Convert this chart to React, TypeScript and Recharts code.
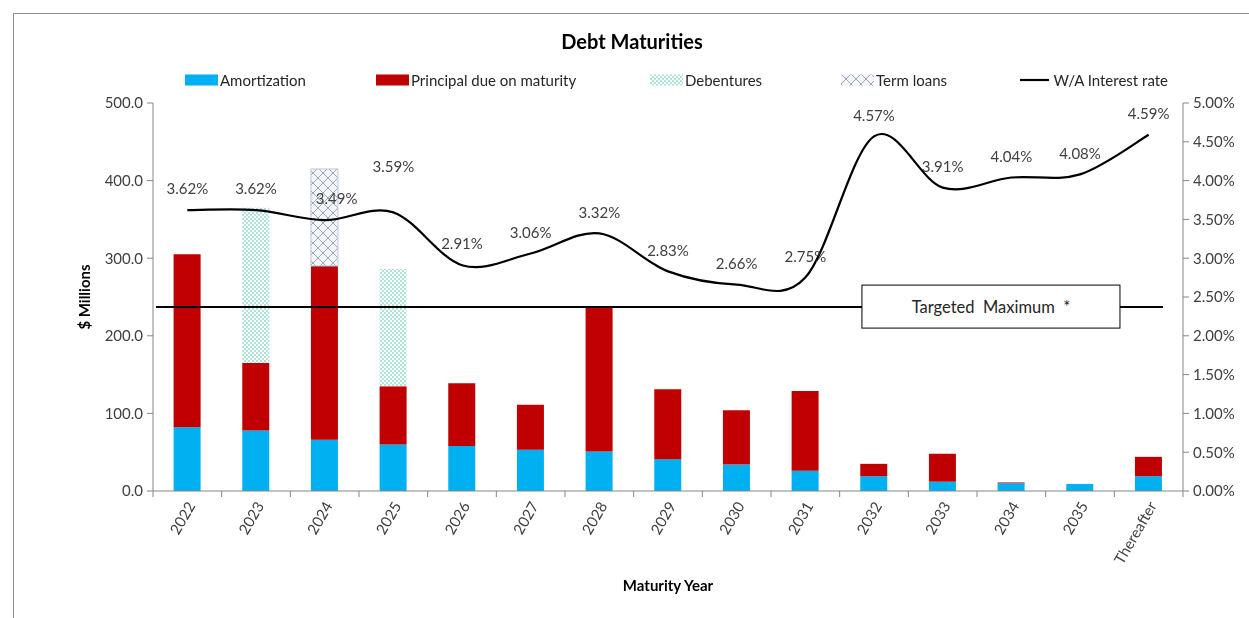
import React from 'react';
import {
  ComposedChart,
  Bar,
  Line,
  XAxis,
  YAxis,
  Legend,
  ReferenceLine,
  LabelList,
} from 'recharts';

const years = ['2022', '2023', '2024', '2025', '2026', '2027', '2028', '2029', '2030', '2031', '2032', '2033', '2034', '2035', 'Thereafter'];
const amortization = [82, 78, 66, 60, 58, 53, 51, 41, 34, 26, 19, 12, 10, 9, 19];
const principal = [223, 87, 224, 75, 81, 58, 185, 90, 70, 103, 16, 36, 1, 0, 25];
const debentures = [0, 200, 0, 151, 0, 0, 0, 0, 0, 0, 0, 0, 0, 0, 0];
const termLoans = [0, 0, 125, 0, 0, 0, 0, 0, 0, 0, 0, 0, 0, 0, 0];
const rate = [3.62, 3.62, 3.49, 3.59, 2.91, 3.06, 3.32, 2.83, 2.66, 2.75, 4.57, 3.91, 4.04, 4.08, 4.59];
const targetedMaximum = 237;
const leftTicks = [0, 100, 200, 300, 400, 500];
const rightTicks = [0, 0.5, 1, 1.5, 2, 2.5, 3, 3.5, 4, 4.5, 5];

const data = years.map((year, i) => ({
  year,
  amortization: amortization[i],
  principal: principal[i],
  debentures: debentures[i],
  termLoans: termLoans[i],
  rate: rate[i],
}));

const FONT = 'Lato, "Open Sans", sans-serif';
const BLUE = '#00b0f0';
const RED = '#c00000';
const AXIS = '#868686';
const TEXT = '#404040';

const CHART_W = 1241;
const CHART_H = 602;
const MARGIN = { top: 95, right: 4, bottom: 19, left: 85 };
const LEFT_W = 60;
const RIGHT_W = 62;
const PLOT_W = CHART_W - MARGIN.left - MARGIN.right - LEFT_W - RIGHT_W;
const BAND = PLOT_W / years.length;

// Excel-like smoothed line (Catmull-Rom style bezier)
const excelSmooth = (context: any) => {
  let pts: number[][] = [];
  return {
    areaStart() {},
    areaEnd() {},
    lineStart() {
      pts = [];
    },
    lineEnd() {
      const n = pts.length;
      if (!n) return;
      context.moveTo(pts[0][0], pts[0][1]);
      for (let i = 0; i < n - 1; i++) {
        const p0 = pts[Math.max(i - 1, 0)];
        const p1 = pts[i];
        const p2 = pts[i + 1];
        const p3 = pts[Math.min(i + 2, n - 1)];
        context.bezierCurveTo(
          p1[0] + (p2[0] - p0[0]) / 6,
          p1[1] + (p2[1] - p0[1]) / 6,
          p2[0] - (p3[0] - p1[0]) / 6,
          p2[1] - (p3[1] - p1[1]) / 6,
          p2[0],
          p2[1]
        );
      }
    },
    point(x: number, y: number) {
      pts.push([+x, +y]);
    },
  };
};

const XTick = (props: any) => {
  const { x, y, payload, index } = props;
  const half = BAND / 2;
  const ax = x + 4;
  const ay = y + 12;
  return (
    <g>
      <line x1={x - half} x2={x - half} y1={y} y2={y + 6} stroke={AXIS} />
      {index === years.length - 1 && <line x1={x + half} x2={x + half} y1={y} y2={y + 6} stroke={AXIS} />}
      <text
        x={ax}
        y={ay}
        dy="0.35em"
        textAnchor="end"
        transform={`rotate(-60, ${ax}, ${ay})`}
        fontSize={15}
        fontFamily={FONT}
        fill={TEXT}
      >
        {payload.value}
      </text>
    </g>
  );
};

const RateLabel = (p: any) => {
  const { x, y, value, index } = p;
  const dx = index === 2 ? 12 : 0;
  const dy = index === 3 ? -46 : -21;
  return (
    <text x={x + dx} y={y + dy} dy="0.35em" textAnchor="middle" fontSize={15} fontFamily={FONT} fill={TEXT}>
      {Number(value).toFixed(2)}%
    </text>
  );
};

const TargetBox = (p: any) => {
  const vb = p.viewBox || {};
  const bx = vb.x + vb.width * 0.6883;
  const bw = vb.width * 0.2505;
  const by = vb.y - 22;
  return (
    <g>
      <rect x={bx} y={by} width={bw} height={43} fill="#fff" stroke="#000" strokeWidth={1} />
      <text
        x={bx + bw / 2}
        y={vb.y}
        dy="0.35em"
        textAnchor="middle"
        fontSize={16.5}
        fontFamily={FONT}
        fill="#262626"
        style={{ whiteSpace: 'pre' }}
      >
        {'Targeted  Maximum  *'}
      </text>
    </g>
  );
};

const TargetLineShape = (p: any) => (
  <line x1={p.x1 + 3} x2={p.x2 - 20} y1={p.y1} y2={p.y2} stroke="#000" strokeWidth={2} />
);

type LegendItem = { label: string; pos: number; anchor: 'left' | 'right'; kind: 'rect' | 'line'; fill: string };
const legendItems: LegendItem[] = [
  { label: 'Amortization', pos: 177, anchor: 'left', kind: 'rect', fill: BLUE },
  { label: 'Principal due on maturity', pos: 368, anchor: 'left', kind: 'rect', fill: RED },
  { label: 'Debentures', pos: 642, anchor: 'left', kind: 'rect', fill: 'url(#debPattern)' },
  { label: 'Term loans', pos: CHART_W - 939, anchor: 'right', kind: 'rect', fill: 'url(#termPattern)' },
  { label: 'W/A Interest rate', pos: CHART_W - 1160, anchor: 'right', kind: 'line', fill: '#000' },
];

const renderLegend = () => (
  <div style={{ position: 'relative', width: CHART_W, height: 20, fontFamily: FONT, fontSize: 15, color: '#262626' }}>
    {legendItems.map((it) => (
      <div
        key={it.label}
        style={{
          position: 'absolute',
          [it.anchor]: it.pos,
          top: 0,
          height: 20,
          display: 'flex',
          alignItems: 'center',
          whiteSpace: 'nowrap',
        }}
      >
        <svg width={33} height={12} style={{ marginRight: 2 }}>
          {it.kind === 'rect' ? (
            <rect x={0} y={0.5} width={33} height={11} fill={it.fill} />
          ) : (
            <line x1={2} x2={31} y1={6} y2={6} stroke="#000" strokeWidth={2.2} />
          )}
        </svg>
        <span>{it.label}</span>
      </div>
    ))}
  </div>
);

export default function App() {
  return (
    <div style={{ position: 'relative', width: CHART_W, height: CHART_H }}>
      <div
        style={{
          position: 'fixed',
          left: 13,
          top: 13,
          right: 0,
          bottom: 0,
          borderTop: '1px solid #8c8c8c',
          borderLeft: '1px solid #8c8c8c',
          pointerEvents: 'none',
        }}
      />
      <div
        style={{
          position: 'absolute',
          left: 0,
          top: 21,
          width: 1248,
          textAlign: 'center',
          fontFamily: FONT,
          fontWeight: 700,
          fontSize: 20,
          color: '#000',
        }}
      >
        Debt Maturities
      </div>
      <ComposedChart width={CHART_W} height={CHART_H} data={data} margin={MARGIN} barCategoryGap="30%">
        <defs>
          <pattern id="debPattern" width={4} height={4} patternUnits="userSpaceOnUse">
            <rect width={4} height={4} fill="#ffffff" />
            <circle cx={1} cy={1} r={0.8} fill="#46c0a5" />
            <circle cx={3} cy={3} r={0.8} fill="#46c0a5" />
          </pattern>
          <pattern id="termPattern" width={10} height={10} patternUnits="userSpaceOnUse">
            <rect width={10} height={10} fill="#f3f5f8" />
            <path d="M0,0 L10,10 M10,0 L0,10 M-5,5 L5,15 M5,-5 L15,5 M-5,5 L5,-5 M5,15 L15,5" stroke="#9aa8ba" strokeWidth={1} />
          </pattern>
        </defs>
        <XAxis
          dataKey="year"
          interval={0}
          tick={<XTick />}
          tickLine={false}
          tickSize={0}
          tickMargin={0}
          axisLine={{ stroke: AXIS }}
          height={100}
          label={{ value: 'Maturity Year', position: 'insideBottom', offset: 0, fontFamily: FONT, fontSize: 15, fontWeight: 700, fill: '#000' }}
        />
        <YAxis
          yAxisId="left"
          domain={[0, 500]}
          ticks={leftTicks}
          tickFormatter={(v: number) => v.toFixed(1)}
          width={LEFT_W}
          tickSize={6}
          tickMargin={4}
          axisLine={{ stroke: AXIS }}
          tickLine={{ stroke: AXIS }}
          tick={{ fill: TEXT, fontSize: 15, fontFamily: FONT }}
          label={(lp: any) => {
            const vb = lp.viewBox || {};
            const cx = vb.x - 3;
            const cy = vb.y + vb.height / 2;
            return (
              <text
                x={cx}
                y={cy}
                textAnchor="middle"
                transform={`rotate(-90, ${cx}, ${cy})`}
                fontFamily={FONT}
                fontSize={15}
                fontWeight={700}
                fill="#000"
              >
                $ Millions
              </text>
            );
          }}
        />
        <YAxis
          yAxisId="right"
          orientation="right"
          domain={[0, 5]}
          ticks={rightTicks}
          tickFormatter={(v: number) => v.toFixed(2) + '%'}
          width={RIGHT_W}
          tickSize={6}
          tickMargin={4}
          axisLine={{ stroke: AXIS }}
          tickLine={{ stroke: AXIS }}
          tick={{ fill: TEXT, fontSize: 15, fontFamily: FONT }}
        />
        <Legend
          layout="horizontal"
          verticalAlign="middle"
          align="center"
          content={renderLegend}
          wrapperStyle={{ top: 62, left: 0, width: CHART_W, height: 20 }}
        />
        <Bar yAxisId="left" dataKey="amortization" stackId="a" fill={BLUE} isAnimationActive={false} name="Amortization" />
        <Bar yAxisId="left" dataKey="principal" stackId="a" fill={RED} isAnimationActive={false} name="Principal due on maturity" />
        <Bar yAxisId="left" dataKey="debentures" stackId="a" fill="url(#debPattern)" isAnimationActive={false} name="Debentures" />
        <Bar
          yAxisId="left"
          dataKey="termLoans"
          stackId="a"
          fill="url(#termPattern)"
          stroke="#bcc8d8"
          strokeWidth={1}
          isAnimationActive={false}
          name="Term loans"
        />
        <ReferenceLine
          yAxisId="left"
          y={targetedMaximum}
          stroke="#000"
          strokeWidth={2}
          shape={TargetLineShape}
          label={<TargetBox />}
        />
        <Line
          yAxisId="right"
          dataKey="rate"
          type={excelSmooth as any}
          stroke="#000"
          strokeWidth={2.2}
          dot={false}
          activeDot={false}
          isAnimationActive={false}
          name="W/A Interest rate"
        >
          <LabelList dataKey="rate" content={<RateLabel />} />
        </Line>
      </ComposedChart>
    </div>
  );
}
